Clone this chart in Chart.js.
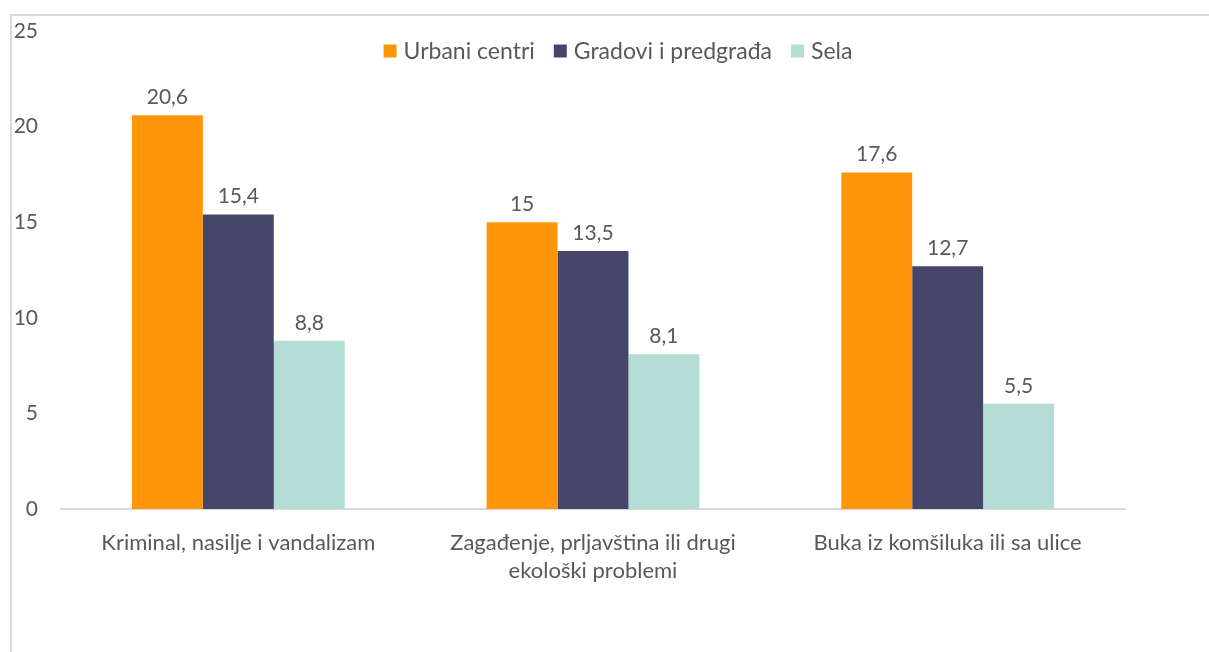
<!DOCTYPE html>
<html>
<head>
<meta charset="utf-8">
<script src="https://cdn.jsdelivr.net/npm/chart.js@4"></script>
<style>
	body { margin: 0; background: #fff; }
	#okvir {
		position: absolute;
		left: 10px;
		top: 14px;
		width: 1199px;
		height: 638px;
		border-top: 2px solid #d9d9d9;
		border-left: 2px solid #d9d9d9;
		box-sizing: border-box;
	}
</style>
</head>
<body>
<div id="okvir"><canvas id="grafikon"></canvas></div>
<script>
const kategorije = [
	"Kriminal, nasilje i vandalizam",
	["Zagađenje, prljavština ili drugi", "ekološki problemi"],
	"Buka iz komšiluka ili sa ulice"
];
const urbaniCentri = [20.6, 15, 17.6];
const gradoviPredgradja = [15.4, 13.5, 12.7];
const sela = [8.8, 8.1, 5.5];
const yTicks = [0, 5, 10, 15, 20, 25];

const font = "Lato";
const boja = "#595959";

// brojevi iznad stubica, sa zarezom
const oznake = {
	id: "oznake",
	afterDatasetsDraw(chart) {
		const ctx = chart.ctx;
		ctx.save();
		ctx.font = "21px " + font;
		ctx.fillStyle = boja;
		ctx.textAlign = "center";
		ctx.textBaseline = "middle";
		chart.data.datasets.forEach((ds, i) => {
			chart.getDatasetMeta(i).data.forEach((bar, j) => {
				const tekst = String(ds.data[j]).replace(".", ",");
				ctx.fillText(tekst, bar.x, bar.y - 18);
			});
		});
		ctx.restore();
	}
};

// legenda u jednom redu unutar grafika
const legenda = {
	id: "legenda",
	afterDraw(chart) {
		const ctx = chart.ctx;
		const kutija = 13;
		const razmak = 7;
		const izmedju = 19;
		ctx.save();
		ctx.font = "23px " + font;
		ctx.textBaseline = "middle";
		const sirine = chart.data.datasets.map(ds => ctx.measureText(ds.label).width);
		let ukupno = 0;
		sirine.forEach(w => { ukupno += kutija + razmak + w; });
		ukupno += izmedju * (sirine.length - 1);
		let x = 606 - ukupno / 2;
		const y = 35;
		chart.data.datasets.forEach((ds, i) => {
			ctx.fillStyle = ds.backgroundColor;
			ctx.fillRect(x, y - kutija / 2, kutija, kutija);
			x += kutija + razmak;
			ctx.fillStyle = boja;
			ctx.fillText(ds.label, x, y + 1);
			x += sirine[i] + izmedju;
		});
		ctx.restore();
	}
};

const ctx = document.getElementById("grafikon");

let grafikon = new Chart(ctx, {
	type: "bar",
	data: {
		labels: kategorije,
		datasets: [
			{ label: "Urbani centri", data: urbaniCentri, backgroundColor: "#ff9609" },
			{ label: "Gradovi i predgrađa", data: gradoviPredgradja, backgroundColor: "#46466a" },
			{ label: "Sela", data: sela, backgroundColor: "#b3ddd5" }
		]
	},
	options: {
		responsive: true,
		maintainAspectRatio: false,
		animation: false,
		categoryPercentage: 0.6,
		barPercentage: 1,
		layout: { padding: { top: 15, right: 84, left: 0, bottom: 0 } },
		plugins: {
			tooltip: { enabled: false },
			legend: { display: false }
		},
		scales: {
			x: {
				grid: { display: false, drawTicks: false },
				border: { display: true, color: "#d9d9d9", width: 2 },
				ticks: {
					color: boja,
					padding: 20,
					maxRotation: 0,
					font: { family: font, size: 22, lineHeight: 1.27 }
				},
				afterFit(scale) { scale.height = 143; }
			},
			y: {
				min: 0,
				max: 25,
				afterBuildTicks(scale) { scale.ticks = yTicks.map(v => ({ value: v })); },
				grid: { display: false, drawTicks: false },
				border: { display: false },
				ticks: {
					color: boja,
					padding: 23,
					font: { family: font, size: 21 }
				},
				afterFit(scale) {
					scale.width = 49;
					scale.paddingTop = 0;
					scale.paddingBottom = 0;
				}
			}
		}
	},
	plugins: [oznake, legenda]
});
</script>
</body>
</html>
